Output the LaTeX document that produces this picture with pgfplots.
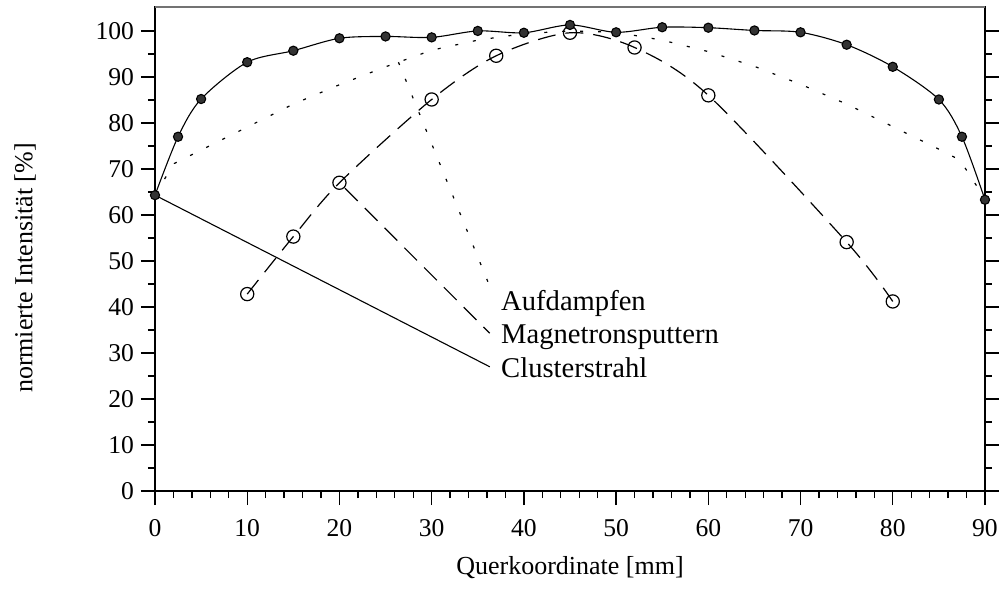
\documentclass[border=0pt]{standalone}
\usepackage{fontspec}
\setmainfont{Liberation Serif}
\usepackage{pgfplots}
\pgfplotsset{compat=1.18}
\begin{document}
\begin{tikzpicture}
\path[use as bounding box] (-77.5pt,-52pt) rectangle (423.5pt,245.5pt);
\begin{axis}[
  scale only axis,
  width=415pt, height=242pt,
  xmin=0, xmax=90, ymin=0, ymax=105.2,
  xtick={0,10,...,90}, ytick={0,10,...,100},
  minor x tick num=4, minor y tick num=1,
  xtick pos=bottom, ytick pos=both, yticklabel pos=left,
  tick align=outside,
  major tick length=7pt, minor tick length=3.5pt,
  every tick/.style={black, line width=0.7pt},
  axis line style={line width=0.9pt},
  tick label style={font=\fontsize{12.8}{15}\selectfont},
  xticklabel style={yshift=-3.5pt},
  /pgf/number format/assume math mode=true,
  clip=false,
  xlabel={Querkoordinate [mm]},
  ylabel={normierte Intensität [\%]},
  xlabel style={font=\fontsize{13}{15}\selectfont, at={(axis description cs:0.5,-0.159)}, anchor=center},
  ylabel style={font=\fontsize{13}{15}\selectfont, at={(axis description cs:-0.1566,0.4607)}, anchor=center},
]
% Aufdampfen (dotted)
\addplot[black, line width=0.6pt, dash pattern=on 1.5pt off 7.5pt, no marks] coordinates {
(0,64.5) (2.1,71.2) (5,74.1) (10,79.1) (15,84.1) (20,88.3) (25,92.2) (30,95.8) (35,98.0) (40,99.4) (45,100.0) (50,99.7) (55,98.0) (60,95.5) (65,92.3) (70,88.4) (75,84.1) (80,79.2) (85,74.3) (87.3,71.9) (90,63.5)};
% Magnetronsputtern (dashed, open circles)
\addplot[black, line width=0.6pt, dash pattern=on 9pt off 5pt, smooth, tension=0.5, mark=o, mark size=3.3pt, mark options={solid, line width=0.6pt}] coordinates {
(10,42.8) (15,55.3) (20,67.0) (30,85.1) (37,94.6) (45,99.6) (52,96.4) (60,86.0) (75,54.1) (80,41.2)};
% Clusterstrahl (solid, filled dots)
\addplot[black, line width=0.55pt, smooth, tension=0.5, mark=*, mark size=2.3pt, mark options={fill=black!80, draw=black}] coordinates {
(0,64.3) (2.5,77.0) (5,85.2) (10,93.2) (15,95.7) (20,98.4) (25,98.8) (30,98.6) (35,100.0) (40,99.6) (45,101.3) (50,99.7) (55,100.8) (60,100.7) (65,100.1) (70,99.7) (75,97.0) (80,92.2) (85,85.1) (87.5,77.0) (90,63.3)};
% leader lines
\addplot[black, line width=0.6pt, dash pattern=on 1.5pt off 7.5pt, no marks] coordinates {(26.4,93.2) (36.6,43.0)};
\addplot[black, line width=0.6pt, dash pattern=on 9pt off 5pt, no marks] coordinates {(20.6,65.8) (36.3,34.3)};
\addplot[black, line width=0.55pt, no marks] coordinates {(0,64.3) (36.3,27.0)};
\node[anchor=west, inner sep=0pt, font=\fontsize{14.3}{16}\selectfont] at (axis cs:37.5,40.8) {Aufdampfen};
\node[anchor=west, inner sep=0pt, font=\fontsize{14.3}{16}\selectfont] at (axis cs:37.5,33.5) {Magnetronsputtern};
\node[anchor=west, inner sep=0pt, font=\fontsize{14.3}{16}\selectfont] at (axis cs:37.5,26.7) {Clusterstrahl};
\draw[white, line width=1.4pt] (rel axis cs:0.003,1) -- (rel axis cs:0.997,1);
\draw[black!55, line width=0.8pt] (rel axis cs:0,1) -- (rel axis cs:1,1);
\end{axis}
\end{tikzpicture}
\end{document}
